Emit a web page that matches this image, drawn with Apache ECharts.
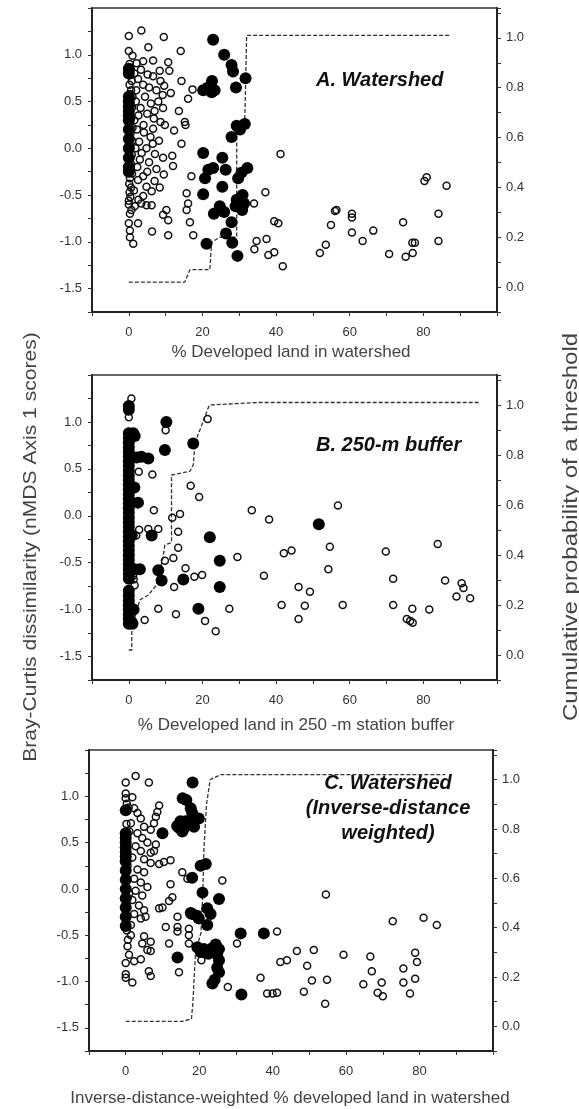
<!DOCTYPE html>
<html>
<head>
<meta charset="utf-8">
<script src="https://cdn.jsdelivr.net/npm/echarts@6/dist/echarts.min.js"></script>
<style>html,body{margin:0;padding:0;background:#fff;}#c{width:579px;height:1109px;}</style>
</head>
<body>
<div id="c"></div>
<script>
// ---------- DATA ----------
var xTickLabels = ['0', '20', '40', '60', '80'];
var leftTickLabels = ['-1.5', '-1.0', '-0.5', '0.0', '0.5', '1.0'];
var rightTickLabels = ['0.0', '0.2', '0.4', '0.6', '0.8', '1.0'];

var panelTitles = ['A. Watershed', 'B. 250-m buffer', 'C. Watershed\n(Inverse-distance\nweighted)'];
var xTitles = ['% Developed land in watershed', '% Developed land in 250 -m station buffer', 'Inverse-distance-weighted % developed land in watershed'];
var leftTitle = 'Bray-Curtis dissimilarity (nMDS Axis 1 scores)';
var rightTitle = 'Cumulative probability of a threshold';

var aOpen = [
[0,1.2],[0,1.04],[1,0.99],[0.2,0.9],[0.5,0.84],[0.3,0.78],[0.8,0.72],[0.2,0.68],[0.6,0.62],[0.3,0.58],[1,0.55],[0.4,0.48],[0.9,0.44],[0.2,0.38],[0.7,0.33],[0.3,0.27],[1,0.22],[0.5,0.16],[0.2,0.12],[0.9,0.08],[0.4,0.02],[0.1,-0.03],[0.8,-0.07],[0.3,-0.12],[0.6,-0.17],[0.1,-0.22],[0.9,-0.27],[0.3,-0.32],[0.1,-0.38],[0.6,-0.42],[0.2,-0.47],[0.4,-0.52],[0,-0.56],[0,-0.6],[0.3,-0.7],[0,-0.8],[0.3,-0.88],[0.3,-0.95],[1.2,-1.02],
[3.4,1.26],[9.5,1.19],[14.1,1.04],[5.3,1.08],[3.9,0.93],[6.6,0.94],[10.7,0.92],[11,0.83],[8.4,0.83],[2.1,0.91],[3.3,0.84],[5.1,0.79],[6.6,0.77],[8.6,0.72],[9.6,0.67],[11.4,0.59],[2.5,0.74],[3.9,0.68],[5.5,0.65],[7.5,0.62],[9.2,0.57],[8,0.5],[9.3,0.43],[14.3,0.72],[17.3,0.63],[16.1,0.53],[13.6,0.4],[15.2,0.28],[15.4,0.25],[12.3,0.19],[14.3,0.05],[1.9,0.5],[3.2,0.43],[5,0.37],[6.8,0.32],[8.6,0.28],[9.8,0.25],[6.6,0.21],[4.1,0.17],[5.9,0.12],[8.2,0.08],[2.8,0.07],[4.8,0],[7.1,-0.06],[9.3,-0.1],[3,-0.12],[5.5,-0.15],[7.5,-0.22],[9.5,-0.28],[3.9,-0.3],[2.5,-0.34],[4.8,-0.41],[8.4,-0.42],[6.2,-0.46],[3.9,-0.51],[3.4,-0.59],[1.6,-0.62],[4.8,-0.61],[6.2,-0.61],[0.7,-0.66],[11.8,-0.08],[12,-0.19],[17,-0.3],[15.7,-0.48],[16.1,-0.59],[15.7,-0.66],[16.6,-0.79],[10.2,-0.66],[9.3,-0.71],[10.7,-0.77],[6.3,-0.89],[10.7,-0.93],[17.5,-0.93],[2.5,-0.8],
[1.5,0.8],[2,0.62],[1.5,0.3],[2.2,0.2],[1.8,0.0],[2.3,-0.2],[1.4,-0.45],[2.6,0.35],[4.4,0.55],[6,0.48],[7,0.4],[4,0.25],[6.5,0.05],[3.5,-0.05],[5,-0.25],[7,-0.35],[2.6,-0.55],
[41.2,-0.06],[37.1,-0.47],[34,-0.59],[39.5,-0.78],[40.6,-0.8],[34.7,-0.99],[34.1,-1.08],[37.4,-0.97],[37.9,-1.14],[39.5,-1.11],[41.8,-1.26],[51.9,-1.12],[53.5,-1.03],[54.9,-0.82],[56,-0.67],[56.4,-0.66],[60.6,-0.7],[60.6,-0.74],[60.6,-0.9],[63.5,-0.99],[66.4,-0.88],[70.7,-1.13],[74.5,-0.79],[75.2,-1.16],[77.1,-1.12],[77,-1.01],[77.7,-1.01],[80.3,-0.35],[80.9,-0.31],[86.3,-0.4],[84.1,-0.7],[84.1,-0.99]
];
var aFilled = [
[22.9,1.16],[25.9,1.0],[27.9,0.89],[28.3,0.82],[31.7,0.75],[21.5,0.65],[22.6,0.72],[23.3,0.62],[20.2,0.62],[22.5,0.6],[29.1,0.65],[29.3,0.24],[31.5,0.26],[30.2,0.2],[27.9,0.12],[20.2,-0.05],[25.4,-0.1],[21.6,-0.23],[22.9,-0.21],[20.7,-0.32],[26.3,-0.23],[32.2,-0.21],[30.6,-0.26],[29.7,-0.32],[25.4,-0.41],[20.2,-0.49],[30.9,-0.5],[29.3,-0.55],[31.3,-0.59],[24.7,-0.62],[29,-0.62],[30.8,-0.66],[23.1,-0.7],[25.9,-0.68],[27.9,-0.79],[26.4,-0.91],[21.1,-1.02],[28.1,-1.01],[29.5,-1.15],
[0,0.85],[0,0.8],[0,0.55],[0,0.5],[0,0.45],[0,0.4],[0,0.35],[0,0.3],[0,0.2],[0,0.1],[0,0.0],[0,-0.1],[0,-0.2],[0,-0.25]
];
var aLine = [[0,0.02],[15.2,0.02],[16.6,0.07],[22,0.07],[22.5,0.18],[24.7,0.2],[29.3,0.2],[29.3,0.62],[31.5,0.67],[32,0.67],[32,1.01],[87,1.01]];

var bOpen = [
[0.7,1.25],[0,1.05],[10,0.91],[21.4,1.03],[2.7,0.47],[6.4,0.44],[16.8,0.32],[19.1,0.2],[6.8,0.06],[11.8,-0.02],[13.9,0.02],[2.8,-0.15],[5.3,-0.14],[8,-0.14],[13.4,-0.17],[13.4,-0.34],[9.8,-0.48],[12.1,-0.45],[15.4,-0.56],[17.8,-0.65],[19.9,-0.63],[12.3,-0.76],[8,-0.99],[12.8,-1.05],[4.3,-1.11],[20.7,-1.12],[23.6,-1.23],[27.3,-0.99],[29.5,-0.44],[33.4,0.06],[38.1,-0.04],[42.1,-0.4],[44.2,-0.37],[36.7,-0.64],[41.5,-0.95],[46.1,-0.76],[47.8,-0.96],[46.1,-1.1],[49.2,-0.81],[56.8,0.11],[54.6,-0.33],[54.2,-0.57],[58.1,-0.95],[69.8,-0.38],[71.8,-0.67],[71.8,-0.95],[75.5,-1.1],[77,-0.99],[76.4,-1.12],[77.1,-1.14],[81.6,-1.0],[83.9,-0.3],[85.9,-0.69],[90.4,-0.72],[90.9,-0.77],[89,-0.86],[92.7,-0.88],[1.6,-0.74],[1.2,-0.64],[2,-0.21],[1.5,0.3],[1.3,-0.68]
];
var bFilled = [
[0,1.17],[0,1.13],[0,0.88],[0,0.83],[0,0.78],[0,0.73],[0,0.68],[0,0.63],[0,0.58],[0,0.53],[0,0.48],[0,0.43],[0,0.38],[0,0.33],[0,0.28],[0,0.23],[0,0.18],[0,0.13],[0,0.08],[0,0.03],[0,-0.02],[0,-0.07],[0,-0.12],[0,-0.17],[0,-0.22],[0,-0.27],[0,-0.32],[0,-0.37],[0,-0.42],[0,-0.47],[0,-0.52],[0,-0.57],[0,-0.62],[0,-0.67],[0,-0.8],[0,-0.85],[0,-0.9],[0,-0.95],[0,-1.0],[0,-1.05],[0,-1.1],[0,-1.15],
[1.2,0.88],[1.6,0.85],[2.1,0.62],[3.4,0.63],[5.3,0.61],[1.5,0.3],[2.5,0.14],[0.8,-0.21],[1.6,-0.57],[3,-0.57],[0.7,-0.99],[1.3,-1.0],[1,-1.15],[0.7,-1.13],
[10.2,1.0],[9.8,0.7],[17.5,0.77],[6.2,-0.21],[22,-0.23],[24.7,-0.48],[8,-0.58],[8.9,-0.69],[14.8,-0.68],[24.7,-0.76],[18.9,-0.99],[51.6,-0.09]
];
var bLine = [[0,0.02],[0.8,0.02],[0.8,0.11],[3,0.22],[5.3,0.24],[7.5,0.28],[9.3,0.39],[9.8,0.44],[11.6,0.45],[11.6,0.72],[16.6,0.735],[17.5,0.76],[18,0.85],[19.3,0.9],[21.6,0.99],[22,1.0],[35,1.01],[95,1.01]];

var cOpen = [
[0,1.15],[2.7,1.22],[6.3,1.15],[0,1.03],[0,0.98],[1.8,0.99],[9.1,0.9],[8.6,0.83],[8.2,0.78],[7.7,0.71],
[2.3,0.87],[3.2,0.82],[4.1,0.76],[1.4,0.71],[5,0.67],[6.8,0.64],[3.2,0.6],[4.5,0.55],[5.9,0.5],[2.7,0.46],[4.1,0.41],[1.8,0.34],[5,0.32],[6.8,0.28],[3.2,0.21],[5,0.18],[2.3,0.11],[4.1,0.07],[5.9,0.02],[2.7,-0.02],[4.5,-0.07],[1.8,-0.12],[3.6,-0.18],[5,-0.23],[2.3,-0.27],[4.1,-0.32],[1.4,-0.39],[5,-0.51],[6.8,-0.57],[4.5,-0.59],[5.9,-0.66],[6.8,-0.67],[1.4,-0.5],[0.5,-0.62],[0.9,-0.71],
[0.3,0.92],[0.8,0.88],[0.2,0.7],[1,0.62],[0.5,0.25],[0.9,-0.05],[0.3,-0.45],[0.6,-0.55],
[6.8,0.39],[8.2,0.48],[7.7,0.41],[9.1,0.27],[10.4,0.29],[12.2,0.31],[15.4,0.18],[12.2,0.05],[16.8,0.11],[26.3,0.09],[12.7,-0.09],[11.8,-0.13],[10,-0.2],[9.1,-0.21],[14.1,-0.3],[5.4,-0.3],[10.9,-0.41],[14.1,-0.41],[14.1,-0.46],[17.2,-0.43],[17.2,-0.5],[11.8,-0.59],[17.2,-0.59],[0,-0.8],[2.3,-0.78],[4.1,-0.76],[0,-0.92],[0,-0.96],[1.8,-1.01],[6.3,-0.89],[6.8,-0.94],[14.5,-0.9],[20.6,-0.77],
[30.3,-0.59],[41.2,-0.46],[46.6,-0.67],[51.2,-0.66],[42.1,-0.79],[43.9,-0.77],[49.4,-0.83],[50.7,-0.99],[36.7,-0.96],[38.5,-1.13],[40,-1.13],[41.2,-1.12],[48.5,-1.11],[54.5,-0.06],[54.8,-0.98],[54.3,-1.24],[59.3,-0.71],[66.6,-0.73],[67,-0.89],[64.7,-1.03],[69.7,-1.01],[68.6,-1.12],[70,-1.16],[72.7,-0.35],[75.6,-0.86],[75.6,-1.01],[78.8,-0.97],[78.8,-0.69],[79.3,-0.79],[77.4,-1.13],[81.1,-0.31],[84.7,-0.39],[27.8,-1.06]
];
var cFilled = [
[18.2,1.15],[15.5,0.98],[16.5,0.96],[17.7,0.87],[18.1,0.82],[18.6,0.76],[14.9,0.73],[16.3,0.73],[14.5,0.66],[15.4,0.62],[19.9,0.76],[18.6,0.67],[14,0.68],[15.8,0.65],[10,0.6],
[20.4,0.25],[21.8,0.27],[18.1,0.12],[20.9,-0.04],[25.4,-0.11],[18.1,-0.27],[19.4,-0.29],[17.7,-0.26],[22.2,-0.21],[23.1,-0.27],[19.9,-0.32],[22.2,-0.39],[31.3,-0.48],[37.6,-0.48],[14.1,-0.74],
[19.5,-0.63],[20.4,-0.68],[21.3,-0.65],[22.5,-0.7],[23.5,-0.64],[24.5,-0.6],[25.4,-0.65],[24.9,-0.71],[25.4,-0.77],[24.9,-0.85],[25.4,-0.9],[23.6,-1.02],[24.2,-0.98],[31.5,-1.14],
[0,0.85],[0,0.6],[0,0.55],[0,0.5],[0,0.45],[0,0.4],[0,0.35],[0,0.3],[0,0.2],[0,0.1],[0,0.0],[0,-0.1],[0,-0.2],[0,-0.3],[0,-0.4]
];
var cLine = [[0,0.02],[15.4,0.02],[17.9,0.03],[18.3,0.1],[19,0.3],[20.5,0.38],[21,0.55],[21.3,0.72],[22,0.9],[23,1.0],[25.8,1.02],[87,1.02]];

// ---------- CHART ----------
var panels = [
  {open: aOpen, filled: aFilled, line: aLine, grid: {left: 92, top: 8, width: 405, height: 304}, title: [316, 80], xt: [291, 352]},
  {open: bOpen, filled: bFilled, line: bLine, grid: {left: 92, top: 375, width: 405, height: 305}, title: [316, 445], xt: [296, 725]},
  {open: cOpen, filled: cFilled, line: cLine, grid: {left: 89, top: 750, width: 404, height: 301}, title: [388, 808], xt: [290, 1098]}
];

var FONT = '"Liberation Sans", Arial, sans-serif';
var grids = [], xAxes = [], yAxes = [], series = [], graphics = [];

function near(v, list) {
  for (var i = 0; i < list.length; i++) if (Math.abs(parseFloat(list[i]) - v) < 1e-6) return list[i];
  return '';
}

panels.forEach(function (p, i) {
  grids.push(Object.assign({show: true, borderColor: '#333', borderWidth: 1.5, backgroundColor: 'transparent'}, p.grid));
  xAxes.push({
    gridIndex: i, type: 'value', min: -10, max: 100, interval: 10,
    axisLine: {onZero: false, lineStyle: {color: '#222', width: 2}},
    axisTick: {length: 4, lineStyle: {color: '#333', width: 1}},
    axisLabel: {margin: 14, fontSize: 13, color: '#333', fontFamily: FONT,
      formatter: function (v) { return near(v, xTickLabels); }},
    splitLine: {show: false}
  });
  yAxes.push({
    gridIndex: i, type: 'value', position: 'left', min: -1.75, max: 1.5, interval: 0.25,
    axisLine: {show: true, onZero: false, lineStyle: {color: '#222', width: 2}},
    axisTick: {show: true, length: 4, lineStyle: {color: '#333', width: 1}},
    axisLabel: {margin: 10, fontSize: 13, color: '#333', fontFamily: FONT,
      formatter: function (v) { return near(v, leftTickLabels); }},
    splitLine: {show: false}
  });
  yAxes.push({
    gridIndex: i, type: 'value', position: 'right', min: -0.1, max: 1.12, interval: 0.1,
    axisLine: {show: true, onZero: false, lineStyle: {color: '#222', width: 2}},
    axisTick: {show: true, length: 4, lineStyle: {color: '#333', width: 1}},
    axisLabel: {margin: 9, fontSize: 13, color: '#333', fontFamily: FONT,
      formatter: function (v) { return near(v, rightTickLabels); }},
    splitLine: {show: false}
  });
  series.push({
    type: 'scatter', xAxisIndex: i, yAxisIndex: 2 * i, data: p.open, symbol: 'circle', symbolSize: 7,
    itemStyle: {color: 'rgba(255,255,255,0)', borderColor: '#111', borderWidth: 1.5, opacity: 1}, silent: true, z: 2
  });
  series.push({
    type: 'scatter', xAxisIndex: i, yAxisIndex: 2 * i, data: p.filled, symbol: 'circle', symbolSize: 12,
    itemStyle: {color: '#000', borderWidth: 0, opacity: 1}, silent: true, z: 3
  });
  series.push({
    type: 'line', xAxisIndex: i, yAxisIndex: 2 * i + 1, data: p.line, showSymbol: false, symbol: 'none',
    lineStyle: {color: '#333', width: 1.3, type: [4, 2]}, silent: true, z: 1
  });
  graphics.push({
    type: 'text', x: p.title[0], y: p.title[1],
    style: {text: panelTitles[i], font: 'italic bold 20px ' + FONT, fill: '#111',
      align: i === 2 ? 'center' : 'left', verticalAlign: 'middle', lineHeight: 25}
  });
  graphics.push({
    type: 'text', x: p.xt[0], y: p.xt[1],
    style: {text: xTitles[i], font: '17px ' + FONT, fill: '#444', align: 'center', verticalAlign: 'middle'}
  });
});

graphics.push({
  type: 'text', x: 31, y: 547, rotation: Math.PI / 2, scaleX: 1.17,
  style: {text: leftTitle, font: '18px ' + FONT, fill: '#444', align: 'center', verticalAlign: 'middle'}
});
graphics.push({
  type: 'text', x: 571, y: 527, rotation: Math.PI / 2, scaleX: 1.2,
  style: {text: rightTitle, font: '20px ' + FONT, fill: '#444', align: 'center', verticalAlign: 'middle'}
});

var chart = echarts.init(document.getElementById('c'), null, {renderer: 'canvas'});
chart.setOption({
  animation: false,
  backgroundColor: '#fff',
  grid: grids, xAxis: xAxes, yAxis: yAxes, series: series, graphic: graphics
});
</script>
</body>
</html>
